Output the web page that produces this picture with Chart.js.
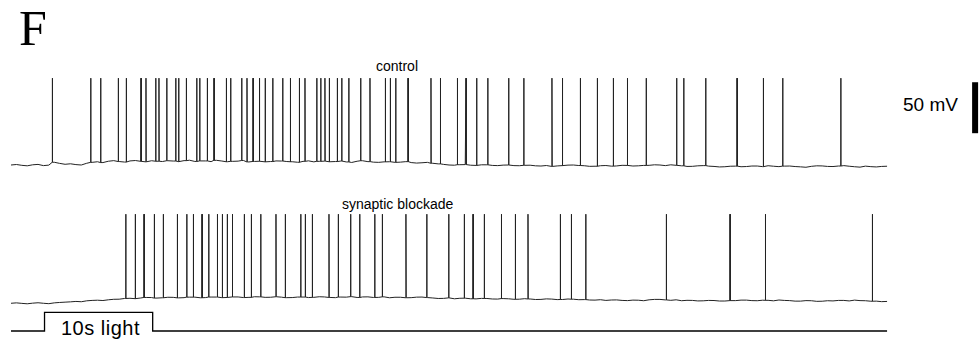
<!DOCTYPE html>
<html>
<head>
<meta charset="utf-8">
<script src="https://cdn.jsdelivr.net/npm/chart.js@4.4.1/dist/chart.umd.min.js"></script>
<style>
  html, body { margin: 0; background: #fff; }
  body { width: 979px; height: 339px; position: relative; overflow: hidden; font-family: "Liberation Sans", Arial, sans-serif; }
  canvas, .lbl { position: absolute; }
  .lbl { white-space: nowrap; color: #000; }
</style>
</head>
<body>
<div class="lbl" style="left:19px;top:3px;font:50px/50px 'Liberation Serif','Times New Roman',serif;">F</div>
<div class="lbl" style="left:376px;top:59px;font-size:14px;line-height:14px;">control</div>
<div class="lbl" style="left:342px;top:197px;font-size:14px;line-height:14px;">synaptic blockade</div>
<div class="lbl" style="left:903px;top:95px;font-size:19px;line-height:19px;">50 mV</div>
<div class="lbl" style="left:61px;top:318px;font-size:20px;line-height:20px;letter-spacing:0.5px;">10s light</div>
<canvas id="ctrl" width="968" height="105" style="left:11px;top:70px"></canvas>
<canvas id="blk" width="968" height="105" style="left:11px;top:205px"></canvas>
<canvas id="light" width="968" height="39" style="left:11px;top:300px"></canvas>
<script>
// membrane potential (mV), one reading every 0.5 s, t = 0..81 s
var sampleStep = 0.5;

var controlBaseline = [
    -63.2, -62.7, -63.5, -64.0, -63.0, -62.6, -63.8, -63.3, -60.5, -61.6,
    -62.5, -62.0, -62.8, -63.2, -61.5, -60.6, -60.0, -60.8, -59.5, -58.9,
    -59.8, -60.3, -59.2, -58.8, -59.6, -60.1, -59.0, -59.5, -59.8, -59.0,
    -59.3, -59.9, -58.9, -58.5, -59.7, -59.2, -59.2, -59.9, -58.6, -59.3,
    -60.0, -59.6, -59.4, -58.8, -60.2, -59.7, -59.5, -60.1, -59.8, -59.2,
    -59.3, -59.8, -60.0, -60.5, -59.6, -59.1, -60.1, -59.6, -59.4, -60.0,
    -59.8, -59.3, -60.2, -60.7, -59.5, -59.0, -59.9, -60.4, -60.6, -60.1,
    -60.0, -60.6, -60.4, -59.9, -60.8, -61.3, -61.0, -60.6, -61.5, -62.1,
    -62.6, -63.2, -63.4, -62.9, -62.8, -63.4, -63.6, -63.0, -63.0, -63.6,
    -63.8, -63.3, -63.2, -63.8, -63.9, -63.5, -63.4, -64.0, -64.2, -63.7,
    -64.6, -64.1, -63.8, -63.3, -63.2, -63.7, -63.9, -64.5, -64.4, -63.9,
    -63.7, -64.3, -64.1, -63.5, -63.6, -64.2, -64.0, -63.6, -63.5, -63.0,
    -63.2, -63.8, -63.0, -63.5, -64.0, -64.6, -64.5, -64.0, -63.8, -64.3,
    -64.6, -65.1, -64.9, -64.4, -64.3, -64.9, -64.7, -64.2, -64.2, -64.8,
    -63.9, -64.4, -64.8, -64.3, -64.2, -64.7, -65.0, -65.4, -64.5, -64.0,
    -64.1, -64.6, -64.7, -64.2, -63.8, -64.4, -64.9, -65.3, -64.3, -64.8,
    -65.1, -64.6, -64.4];

var blockadeBaseline = [
    -66.4, -66.0, -66.5, -66.9, -66.3, -65.9, -66.4, -66.8, -66.0, -65.6,
    -65.3, -65.0, -64.6, -64.9, -64.0, -63.6, -63.4, -63.7, -63.0, -62.5,
    -62.4, -61.7, -61.5, -61.9, -61.2, -60.7, -60.8, -61.3, -61.0, -60.5,
    -60.6, -61.1, -60.9, -60.4, -60.4, -61.0, -60.8, -60.3, -60.3, -60.9,
    -60.7, -60.2, -60.2, -60.8, -60.6, -60.0, -60.1, -60.6, -60.5, -60.0,
    -60.4, -60.9, -60.8, -60.3, -60.3, -60.8, -60.6, -60.0, -60.2, -60.7,
    -60.9, -60.3, -60.4, -59.9, -60.7, -60.2, -60.1, -60.7, -60.6, -60.1,
    -61.0, -60.5, -60.5, -61.0, -60.9, -60.4, -60.3, -60.8, -61.2, -61.7,
    -61.6, -61.1, -62.0, -61.5, -61.4, -62.0, -62.1, -61.6, -61.7, -62.2,
    -62.3, -61.8, -62.0, -62.5, -62.4, -61.9, -62.2, -62.7, -62.6, -62.1,
    -62.3, -62.8, -62.7, -62.2, -62.4, -62.9, -62.8, -63.2, -63.3, -62.9,
    -63.6, -63.2, -63.1, -63.6, -63.8, -63.3, -63.4, -63.9, -63.0, -62.6,
    -62.6, -63.1, -63.5, -63.0, -63.9, -63.5, -63.6, -64.1, -64.0, -63.6,
    -63.7, -64.2, -64.2, -63.8, -63.8, -63.3, -63.3, -63.8, -63.9, -63.4,
    -63.5, -64.0, -63.2, -63.6, -63.8, -64.3, -64.3, -63.8, -63.9, -64.5,
    -64.4, -63.9, -64.1, -63.6, -63.6, -64.1, -63.3, -63.8, -63.9, -64.4,
    -64.3, -64.8, -64.6];

// spike times (s)
var controlSpikes = [3.82, 7.37, 8.29, 9.92, 10.66, 12.02, 12.48, 13.38, 13.68, 14.40,
    15.23, 15.51, 16.21, 17.17, 17.45, 18.15, 18.77, 19.91, 20.31, 21.33,
    21.82, 22.38, 22.96, 23.51, 24.20, 25.12, 25.83, 26.66, 27.18, 28.27,
    28.64, 29.03, 29.43, 30.17, 30.58, 31.23, 32.33, 33.19, 34.61, 35.07,
    35.57, 36.71, 38.83, 39.70, 41.27, 42.07, 43.06, 44.08, 46.02, 47.41,
    50.02, 50.98, 52.64, 54.21, 55.69, 56.99, 58.73, 61.55, 62.20, 64.23,
    67.13, 69.56, 71.35, 76.72];

var blockadeSpikes = [10.61, 11.49, 12.30, 13.25, 14.08, 15.38, 16.25, 16.86, 17.66, 18.28,
    19.08, 19.54, 20.00, 20.46, 21.57, 22.22, 23.09, 24.50, 25.36, 26.79,
    27.21, 27.86, 29.40, 30.26, 31.40, 32.24, 33.63, 34.33, 36.52, 38.44,
    40.47, 41.91, 42.72, 43.76, 45.34, 46.63, 47.80, 50.79, 51.81, 53.14,
    60.59, 66.48, 69.75, 79.64];

var controlPeak = 22;
var blockadePeak = 21;

// light stimulus (0 = off, 1 = on)
var lightTimes = [0, 3.1, 3.1, 13.1, 13.1, 81];
var lightLevels = [0, 0, 1, 1, 0, 0];

// 50 mV scale bar
var scaleBarTime = 89.14;
var scaleBarMv = [-32, 18];

function buildTrace(baseline, spikes, peak) {
    var pts = baseline.map(function (v, i) { return {x: i * sampleStep, y: v}; });
    spikes.forEach(function (t) {
        var foot = baseline[Math.round(t / sampleStep)];
        pts.push({x: t - 0.01, y: foot}, {x: t, y: peak}, {x: t + 0.02, y: foot});
    });
    pts.sort(function (a, b) { return a.x - b.x; });
    return pts;
}

function opts(yMin, yMax) {
    return {
        responsive: false,
        animation: false,
        devicePixelRatio: 1,
        layout: {padding: 0, autoPadding: false},
        plugins: {legend: {display: false}, tooltip: {enabled: false}},
        elements: {point: {radius: 0}, line: {tension: 0}},
        scales: {
            x: {type: 'linear', min: 0, max: 89.5, display: false},
            y: {min: yMin, max: yMax, display: false}
        }
    };
}

new Chart(document.getElementById('ctrl'), {
    type: 'line',
    data: {
        datasets: [
            {
                label: 'control',
                data: buildTrace(controlBaseline, controlSpikes, controlPeak),
                borderColor: '#222',
                borderWidth: 1
            },
            {
                label: '50 mV',
                data: scaleBarMv.map(function (v) { return {x: scaleBarTime, y: v}; }),
                borderColor: '#000',
                borderWidth: 6
            }
        ]
    },
    options: opts(-73, 30)
});

new Chart(document.getElementById('blk'), {
    type: 'line',
    data: {
        datasets: [{
            label: 'synaptic blockade',
            data: buildTrace(blockadeBaseline, blockadeSpikes, blockadePeak),
            borderColor: '#222',
            borderWidth: 1
        }]
    },
    options: opts(-73, 30)
});

new Chart(document.getElementById('light'), {
    type: 'line',
    data: {
        datasets: [{
            label: '10s light',
            data: lightTimes.map(function (t, i) { return {x: t, y: lightLevels[i]}; }),
            borderColor: '#000',
            borderWidth: 1.3
        }]
    },
    options: opts(-0.428, 1.658)
});
</script>
</body>
</html>
